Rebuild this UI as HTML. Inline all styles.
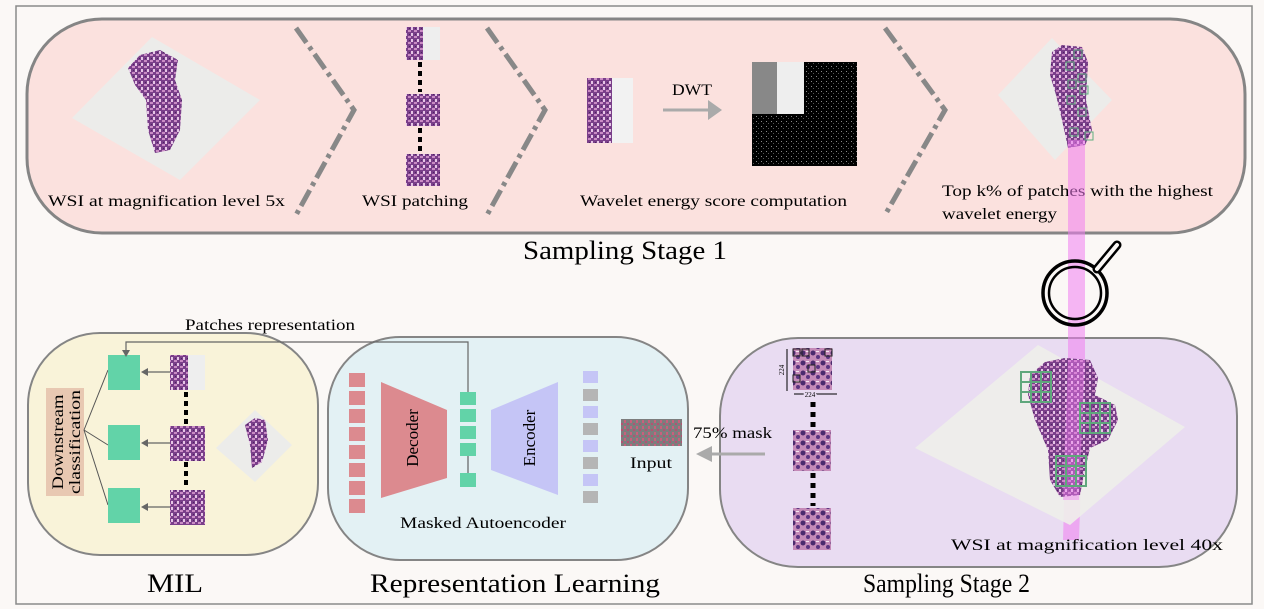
<!DOCTYPE html>
<html><head><meta charset="utf-8"><style>
html,body{margin:0;padding:0;background:#fff;}
svg{display:block;font-family:"Liberation Serif",serif;}
</style></head><body>
<svg width="1264" height="609" viewBox="0 0 1264 609" xmlns="http://www.w3.org/2000/svg">
<defs>
<pattern id="tis" width="6" height="6" patternUnits="userSpaceOnUse">
<rect width="6" height="6" fill="#7a3f8a"/><rect x="0" y="0" width="3" height="2" fill="#c98bc4"/><rect x="3" y="3" width="2" height="3" fill="#e6c6e6"/><rect x="1" y="4" width="1" height="1" fill="#4a2560"/>
</pattern>
<pattern id="tis2" width="10" height="10" patternUnits="userSpaceOnUse">
<rect width="10" height="10" fill="#c58ab8"/><circle cx="3" cy="3" r="2.5" fill="#4b2a6e"/><circle cx="8" cy="7" r="2" fill="#5a3480"/><rect x="6" y="1" width="3" height="1" fill="#f3e6ef"/>
</pattern>
<pattern id="mask" width="6" height="6" patternUnits="userSpaceOnUse">
<rect width="6" height="6" fill="#7d7d7d"/><rect width="2" height="3" fill="#c9607c"/><rect x="3" y="3" width="2" height="2" fill="#b65072"/>
</pattern>
<pattern id="edge" width="5" height="5" patternUnits="userSpaceOnUse">
<rect width="5" height="5" fill="#000"/><rect x="1" y="1" width="1" height="1" fill="#888"/><rect x="3" y="3" width="1" height="1" fill="#555"/>
</pattern>
</defs>
<rect width="1264" height="609" fill="#fbf8f6"/>
<rect x="16" y="6" width="1236" height="598" fill="none" stroke="#8a8a8a" stroke-width="1.5"/>

<!-- top box -->
<rect x="27" y="19" width="1218" height="214" rx="75" fill="#fbe1de" stroke="#858585" stroke-width="3"/>
<!-- slide 1 -->
<polygon points="72,118 152,37 260,100 180,180" fill="#ececea"/>
<path d="M128,68 L140,55 L160,50 L178,60 L175,80 L182,100 L180,130 L170,150 L155,153 L148,130 L146,100 L135,85 Z" fill="url(#tis)"/>
<text x="48" y="206" font-size="16" textLength="237" lengthAdjust="spacingAndGlyphs">WSI at magnification level  5x</text>
<!-- chevrons -->
<g stroke="#888" stroke-width="5" fill="none" stroke-dasharray="18,5,4,5">
<polyline points="296,28 354,110 296,215"/>
<polyline points="487,28 545,110 487,215"/>
<polyline points="885,28 945,110 885,215"/>
<polyline points="965,362 880,445 965,562" stroke-width="6"/>
</g>
<!-- patches -->
<rect x="406" y="27" width="34" height="33" fill="url(#tis)"/><rect x="423" y="27" width="17" height="33" fill="#eee"/>
<rect x="406" y="94" width="34" height="32" fill="url(#tis)"/>
<rect x="406" y="154" width="34" height="32" fill="url(#tis)"/>
<g stroke="#000" stroke-width="4" stroke-dasharray="5,4"><line x1="420" y1="62" x2="420" y2="92"/><line x1="420" y1="128" x2="420" y2="152"/></g>
<text x="362" y="206" font-size="16" textLength="106" lengthAdjust="spacingAndGlyphs">WSI patching</text>
<!-- DWT -->
<rect x="587" y="78" width="46" height="65" fill="#f2f2f2"/><rect x="587" y="78" width="25" height="65" fill="url(#tis)"/>
<text x="672" y="95" font-size="16" textLength="40" lengthAdjust="spacingAndGlyphs">DWT</text>
<line x1="663" y1="110" x2="710" y2="110" stroke="#aaa" stroke-width="3"/>
<polygon points="708,100 722,110 708,120" fill="#aaa"/>
<rect x="752" y="62" width="105" height="104" fill="url(#edge)"/>
<rect x="752" y="62" width="52" height="52" fill="#eee"/><path d="M752,62 h25 v52 h-25z" fill="#888"/>
<text x="580" y="206" font-size="16" textLength="267" lengthAdjust="spacingAndGlyphs">Wavelet energy score computation</text>
<!-- top k slide -->
<polygon points="998,95 1052,38 1112,100 1055,160" fill="#ececea"/>
<path d="M1052,52 L1062,45 L1082,47 L1088,62 L1086,100 L1092,130 L1085,145 L1068,148 L1062,120 L1056,95 L1050,75 Z" fill="url(#tis)"/>
<g fill="none" stroke="#5fae7e" stroke-width="1"><rect x="1066" y="62" width="8" height="8"/><rect x="1078" y="74" width="8" height="8"/><rect x="1068" y="80" width="8" height="8"/><rect x="1080" y="86" width="8" height="8"/><rect x="1067" y="96" width="8" height="8"/><rect x="1078" y="108" width="8" height="8"/><rect x="1070" y="128" width="8" height="8"/><rect x="1085" y="132" width="8" height="8"/><rect x="1074" y="50" width="8" height="8"/></g>
<text x="942" y="196" font-size="16" textLength="271" lengthAdjust="spacingAndGlyphs">Top k% of patches with the highest</text>
<text x="942" y="219" font-size="16" textLength="115" lengthAdjust="spacingAndGlyphs">wavelet energy</text>
<text x="523" y="259" font-size="26" textLength="204" lengthAdjust="spacingAndGlyphs">Sampling Stage 1</text>

<!-- MIL box -->
<rect x="28" y="333" width="290" height="222" rx="72" fill="#f9f3d9" stroke="#858585" stroke-width="2"/>
<!-- Rep box -->
<rect x="328" y="337" width="360" height="223" rx="72" fill="#e3f1f4" stroke="#858585" stroke-width="2"/>
<!-- Stage2 box -->
<rect x="720" y="338" width="517" height="229" rx="78" fill="#e9dcf2" stroke="#858585" stroke-width="2"/>

<!-- beam & magnifier -->
<polygon points="1068,140 1085,140 1085,360 1079,540 1063,540 1068,360" fill="#f07ef0" opacity="0.55"/>
<circle cx="1075" cy="293" r="32" fill="none" stroke="#000" stroke-width="3.5"/>
<circle cx="1075" cy="293" r="26" fill="none" stroke="#000" stroke-width="2.5"/>
<line x1="1097" y1="269" x2="1117" y2="245" stroke="#000" stroke-width="9" stroke-linecap="round"/>
<line x1="1097" y1="269" x2="1117" y2="245" stroke="#fbf8f6" stroke-width="4" stroke-linecap="round"/>

<!-- MIL contents -->
<rect x="46" y="388" width="38" height="108" fill="#e8c8b2"/>
<text transform="translate(63,442) rotate(-90)" font-size="16" text-anchor="middle" textLength="95" lengthAdjust="spacingAndGlyphs">Downstream</text>
<text transform="translate(80,442) rotate(-90)" font-size="16" text-anchor="middle" textLength="104" lengthAdjust="spacingAndGlyphs">classification</text>
<g stroke="#555" stroke-width="1" fill="none"><line x1="84" y1="430" x2="108" y2="370"/><line x1="84" y1="430" x2="108" y2="445"/><line x1="84" y1="430" x2="108" y2="505"/></g>
<rect x="108" y="355" width="32" height="35" fill="#62d3a8"/>
<rect x="108" y="425" width="32" height="35" fill="#62d3a8"/>
<rect x="108" y="488" width="32" height="35" fill="#62d3a8"/>
<rect x="170" y="355" width="35" height="35" fill="url(#tis)"/><rect x="188" y="355" width="17" height="35" fill="#eee"/>
<rect x="170" y="426" width="35" height="35" fill="url(#tis)"/>
<rect x="170" y="490" width="35" height="35" fill="url(#tis)"/>
<g stroke="#000" stroke-width="4" stroke-dasharray="5,4"><line x1="186" y1="392" x2="186" y2="424"/><line x1="186" y1="462" x2="186" y2="488"/></g>
<g stroke="#666" stroke-width="1.2"><line x1="145" y1="372" x2="170" y2="372"/><line x1="145" y1="443" x2="170" y2="443"/><line x1="145" y1="507" x2="170" y2="507"/></g>
<g fill="#666"><polygon points="141,372 148,368 148,376"/><polygon points="141,443 148,439 148,447"/><polygon points="141,507 148,503 148,511"/></g>
<polygon points="216,448 255,410 292,445 255,482" fill="#ececea"/>
<path d="M245,425 L255,418 L265,420 L268,440 L262,462 L252,468 L250,445 Z" fill="url(#tis)"/>
<!-- patches representation line -->
<polyline points="468,392 468,342 126,342 126,352" fill="none" stroke="#666" stroke-width="1.2"/>
<polygon points="122,350 130,350 126,357" fill="#666"/>
<text x="185" y="330" font-size="16" textLength="170" lengthAdjust="spacingAndGlyphs">Patches representation</text>

<!-- Rep contents -->
<g fill="#dc8a8f"><rect x="349" y="373" width="16" height="14"/><rect x="349" y="391" width="16" height="14"/><rect x="349" y="409" width="16" height="14"/><rect x="349" y="427" width="16" height="14"/><rect x="349" y="445" width="16" height="14"/><rect x="349" y="463" width="16" height="14"/><rect x="349" y="481" width="16" height="14"/><rect x="349" y="499" width="16" height="14"/></g>
<polygon points="381,382 447,410 447,478 381,498" fill="#dc8a8f"/>
<text transform="translate(418,438) rotate(-90)" font-size="17" text-anchor="middle">Decoder</text>
<g fill="#62d3a8"><rect x="460" y="392" width="16" height="13"/><rect x="460" y="409" width="16" height="13"/><rect x="460" y="426" width="16" height="13"/><rect x="460" y="443" width="16" height="13"/><rect x="460" y="473" width="16" height="14"/></g>
<line x1="468" y1="456" x2="468" y2="473" stroke="#444" stroke-width="1"/>
<polygon points="491,410 558,382 558,495 491,470" fill="#c5c5f6"/>
<text transform="translate(535,438) rotate(-90)" font-size="17" text-anchor="middle">Encoder</text>
<g><rect x="583" y="371" width="15" height="12" fill="#c5c5f6"/><rect x="583" y="389" width="15" height="12" fill="#b5b5b5"/><rect x="583" y="406" width="15" height="12" fill="#c5c5f6"/><rect x="583" y="423" width="15" height="12" fill="#b5b5b5"/><rect x="583" y="440" width="15" height="12" fill="#c5c5f6"/><rect x="583" y="457" width="15" height="12" fill="#b5b5b5"/><rect x="583" y="474" width="15" height="12" fill="#c5c5f6"/><rect x="583" y="491" width="15" height="12" fill="#b5b5b5"/></g>
<rect x="621" y="419" width="61" height="27" fill="url(#mask)"/>
<text x="630" y="468" font-size="16" textLength="42" lengthAdjust="spacingAndGlyphs">Input</text>
<text x="400" y="528" font-size="16" textLength="166" lengthAdjust="spacingAndGlyphs">Masked Autoencoder</text>

<!-- mask arrow -->
<text x="693" y="438" font-size="16" textLength="79" lengthAdjust="spacingAndGlyphs">75% mask</text>
<line x1="710" y1="454" x2="765" y2="454" stroke="#aaa" stroke-width="3"/>
<polygon points="712,446 696,454 712,462" fill="#aaa"/>

<!-- Stage2 contents -->
<rect x="793" y="348" width="39" height="42" fill="url(#tis2)"/>
<g fill="none" stroke="#222" stroke-width="1"><rect x="793" y="349" width="7" height="7"/><rect x="802" y="349" width="7" height="7"/><rect x="825" y="349" width="7" height="7"/><rect x="793" y="375" width="7" height="7"/><rect x="808" y="365" width="7" height="7"/></g>
<line x1="787" y1="349" x2="787" y2="391" stroke="#000" stroke-width="1"/>
<line x1="794" y1="394" x2="837" y2="394" stroke="#000" stroke-width="1"/>
<text x="810" y="397" font-size="7" text-anchor="middle" fill="#000" style="paint-order:stroke" stroke="#e9dcf2" stroke-width="3">224</text>
<text transform="translate(784,370) rotate(-90)" font-size="7" text-anchor="middle">224</text>
<rect x="793" y="430" width="38" height="41" fill="url(#tis2)"/>
<rect x="793" y="508" width="38" height="42" fill="url(#tis2)"/>
<g stroke="#000" stroke-width="5" stroke-dasharray="5,5"><line x1="813" y1="402" x2="813" y2="428"/><line x1="813" y1="473" x2="813" y2="506"/></g>
<polygon points="915,448 1038,345 1185,427 1070,525" fill="#eeeeea" opacity="0.9"/>
<path d="M1030,375 L1045,362 L1065,358 L1090,360 L1098,378 L1095,395 L1115,405 L1118,420 L1108,440 L1090,448 L1085,470 L1080,495 L1060,497 L1050,480 L1048,450 L1035,420 L1028,395 Z" fill="url(#tis)"/>
<polygon points="1068,360 1085,360 1079,500 1063,500" fill="#f07ef0" opacity="0.45"/>
<g fill="none" stroke="#5fa77c" stroke-width="2">
<rect x="1021" y="372" width="30" height="30"/><line x1="1031" y1="372" x2="1031" y2="402"/><line x1="1041" y1="372" x2="1041" y2="402"/><line x1="1021" y1="382" x2="1051" y2="382"/><line x1="1021" y1="392" x2="1051" y2="392"/>
<rect x="1080" y="403" width="30" height="30"/><line x1="1090" y1="403" x2="1090" y2="433"/><line x1="1100" y1="403" x2="1100" y2="433"/><line x1="1080" y1="413" x2="1110" y2="413"/><line x1="1080" y1="423" x2="1110" y2="423"/>
<rect x="1056" y="456" width="30" height="30"/><line x1="1066" y1="456" x2="1066" y2="486"/><line x1="1076" y1="456" x2="1076" y2="486"/><line x1="1056" y1="466" x2="1086" y2="466"/><line x1="1056" y1="476" x2="1086" y2="476"/>
</g>
<text x="951" y="550" font-size="16" textLength="272" lengthAdjust="spacingAndGlyphs">WSI at magnification level 40x</text>

<text x="147" y="592" font-size="26" textLength="56" lengthAdjust="spacingAndGlyphs">MIL</text>
<text x="370" y="592" font-size="26" textLength="290" lengthAdjust="spacingAndGlyphs">Representation Learning</text>
<text x="863" y="592" font-size="26" textLength="167" lengthAdjust="spacingAndGlyphs">Sampling Stage 2</text>
</svg>
</body></html>
